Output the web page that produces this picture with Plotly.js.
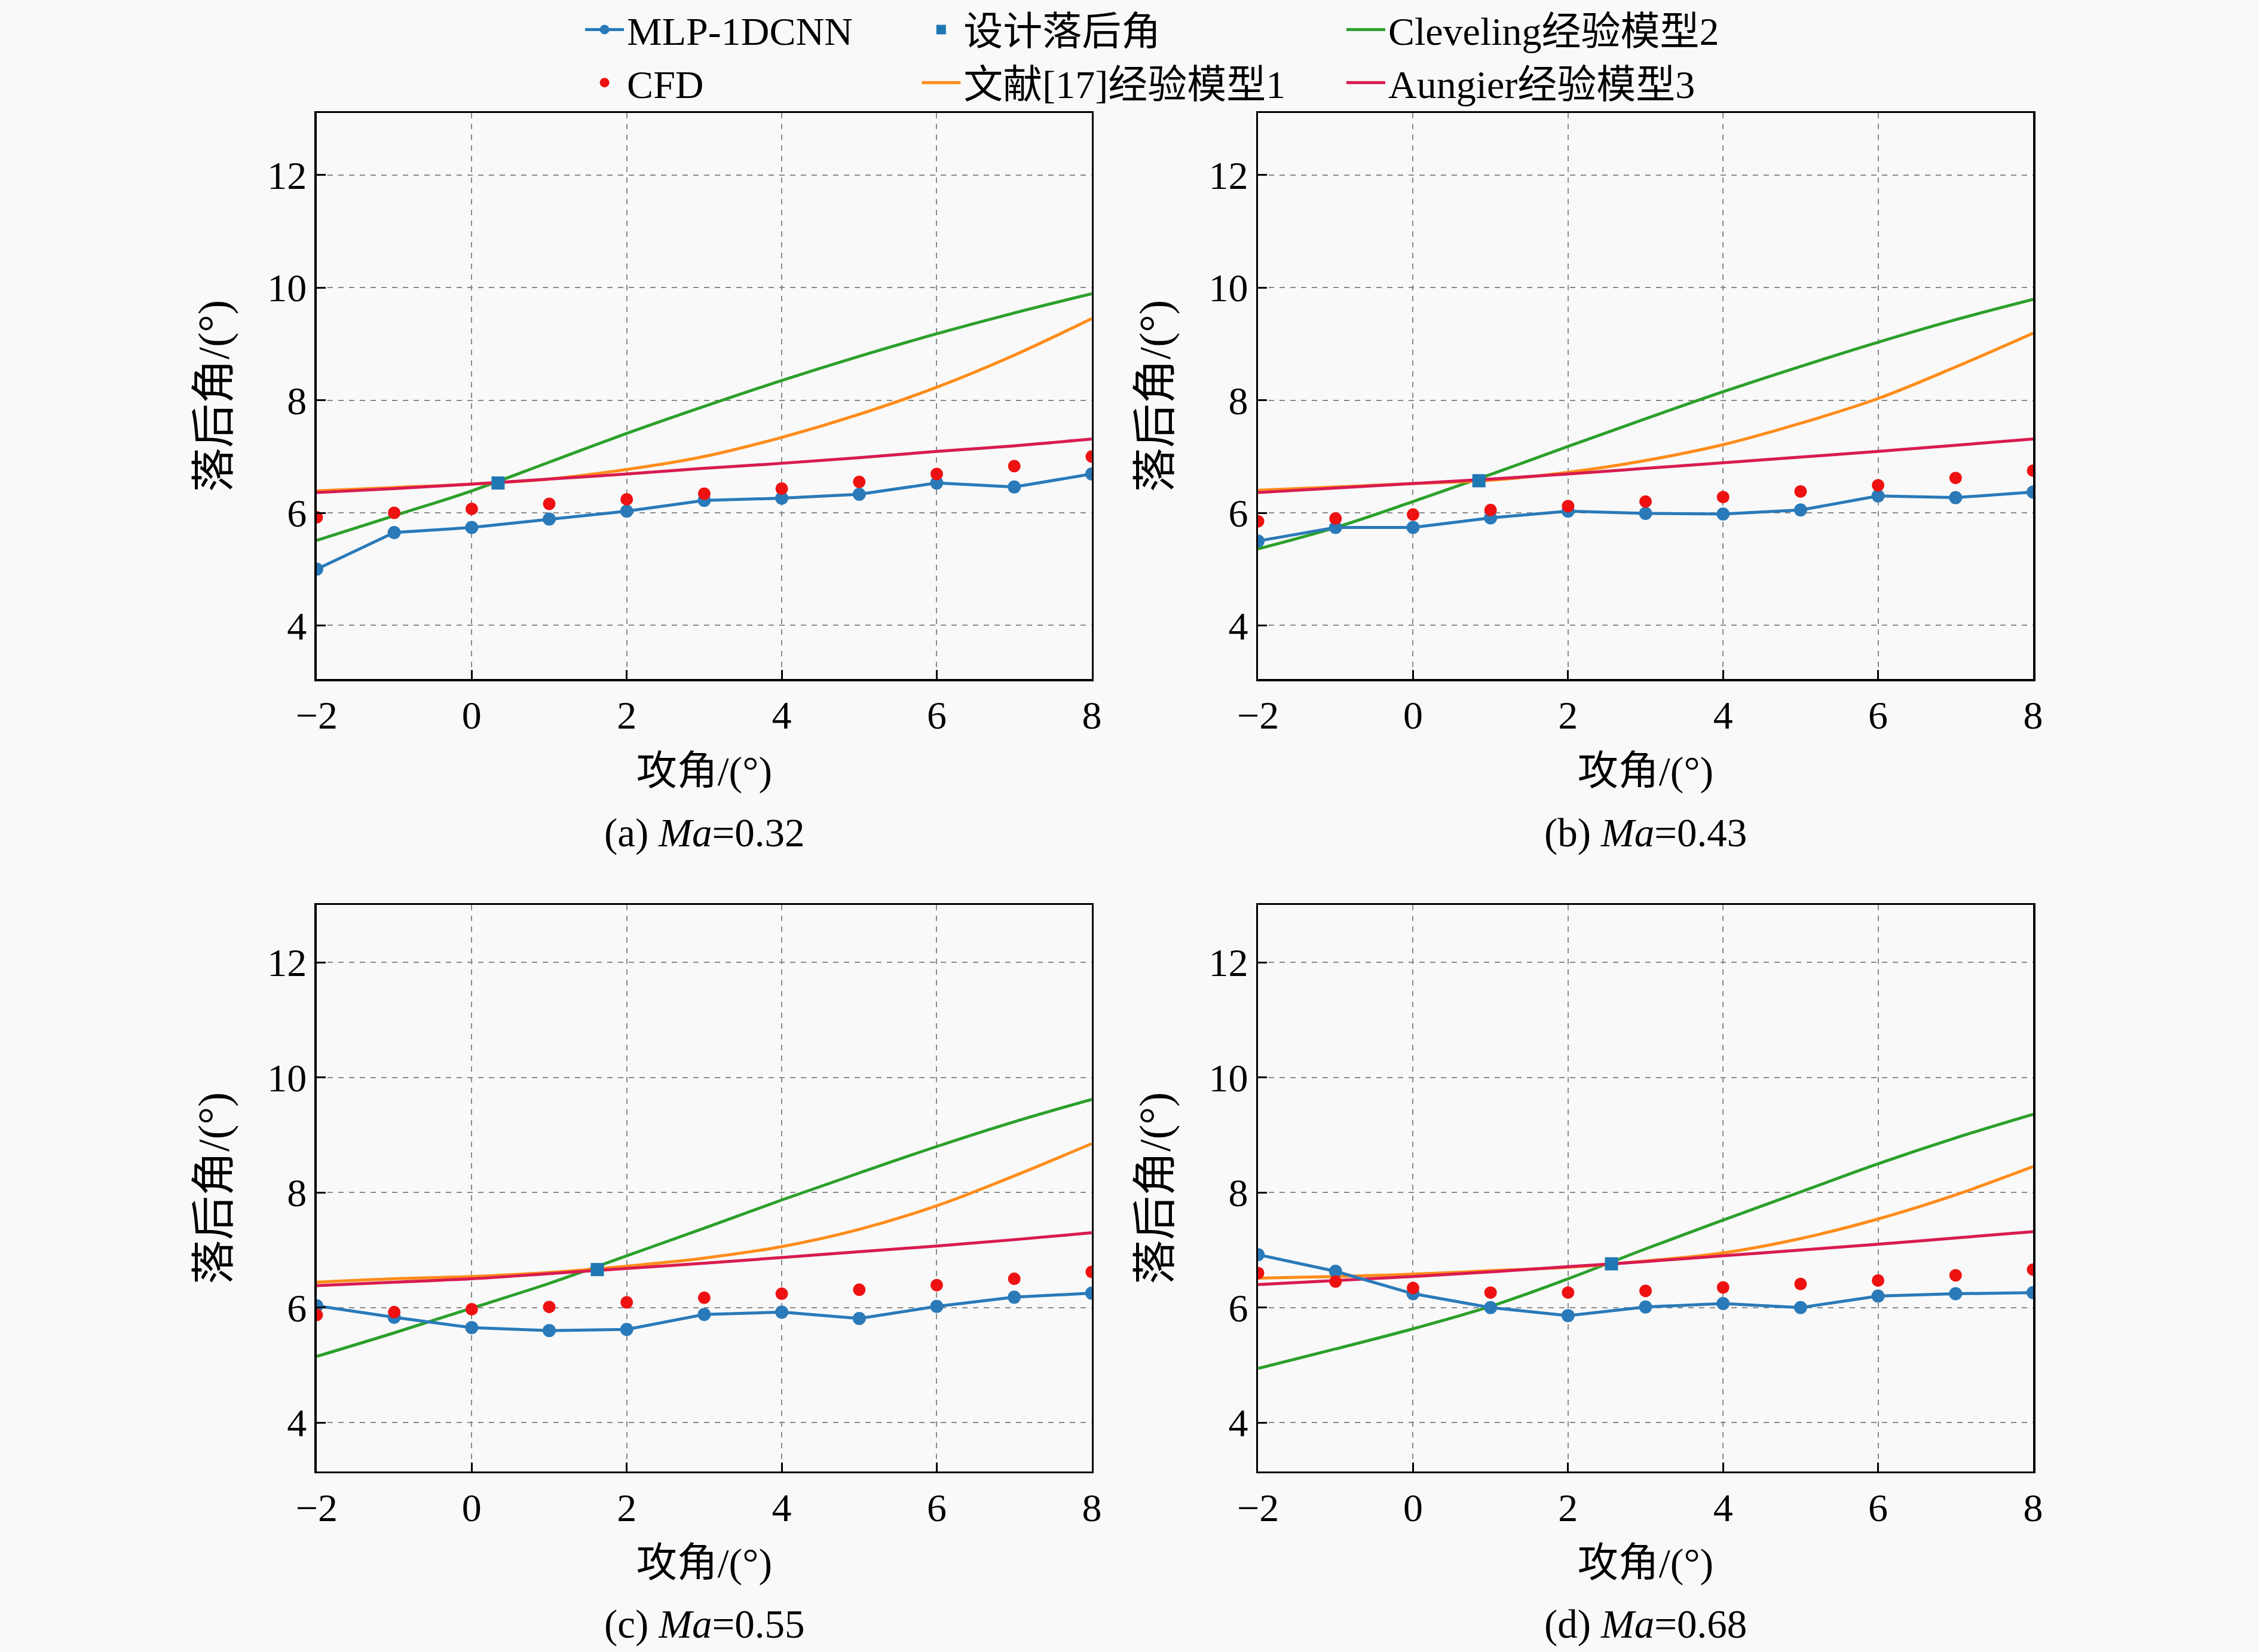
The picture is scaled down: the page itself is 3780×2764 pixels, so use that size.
<!DOCTYPE html>
<html>
<head>
<meta charset="utf-8">
<script src="https://cdn.plot.ly/plotly-3.0.1.min.js"></script>
<style>
  html, body { margin: 0; padding: 0; background: #f9f9f9; }
  #chart { width: 3780px; height: 2764px; }
</style>
</head>
<body>
<div id="chart"></div>
<script>
// angle of attack, same for every panel
const aoa = [-2, -1, 0, 1, 2, 3, 4, 5, 6, 7, 8];

// (a) Ma = 0.32
const mlpA   = [5.00, 5.65, 5.74, 5.89, 6.03, 6.22, 6.26, 6.33, 6.53, 6.46, 6.69];
const cfdA   = [5.92, 6.00, 6.07, 6.16, 6.24, 6.34, 6.43, 6.55, 6.69, 6.83, 7.00];
const mod1A  = [6.39, 6.45, 6.51, 6.60, 6.77, 7.00, 7.34, 7.75, 8.23, 8.80, 9.45];
const mod2A  = [5.51, 5.95, 6.39, 6.90, 7.41, 7.89, 8.35, 8.78, 9.18, 9.55, 9.89];
const mod3A  = [6.36, 6.43, 6.51, 6.60, 6.69, 6.79, 6.88, 6.98, 7.09, 7.19, 7.31];

// (b) Ma = 0.43
const mlpB   = [5.50, 5.74, 5.74, 5.91, 6.03, 5.99, 5.98, 6.05, 6.30, 6.27, 6.37];
const cfdB   = [5.85, 5.90, 5.97, 6.05, 6.12, 6.20, 6.28, 6.38, 6.49, 6.62, 6.75];
const mod1B  = [6.40, 6.46, 6.52, 6.58, 6.72, 6.93, 7.21, 7.59, 8.03, 8.59, 9.19];
const mod2B  = [5.36, 5.74, 6.20, 6.68, 7.18, 7.67, 8.15, 8.60, 9.03, 9.43, 9.79];
const mod3B  = [6.36, 6.44, 6.52, 6.60, 6.69, 6.79, 6.89, 6.99, 7.09, 7.20, 7.31];

// (c) Ma = 0.55
const mlpC   = [6.03, 5.83, 5.65, 5.60, 5.62, 5.88, 5.92, 5.81, 6.02, 6.18, 6.25];
const cfdC   = [5.87, 5.92, 5.97, 6.01, 6.09, 6.17, 6.24, 6.31, 6.39, 6.50, 6.62];
const mod1C  = [6.44, 6.50, 6.54, 6.61, 6.72, 6.86, 7.06, 7.36, 7.77, 8.29, 8.85];
const mod2C  = [5.15, 5.56, 5.99, 6.42, 6.90, 7.38, 7.87, 8.34, 8.80, 9.23, 9.62];
const mod3C  = [6.38, 6.44, 6.50, 6.59, 6.68, 6.77, 6.87, 6.97, 7.07, 7.18, 7.30];

// (d) Ma = 0.68
const mlpD   = [6.92, 6.63, 6.24, 6.00, 5.86, 6.01, 6.07, 6.00, 6.20, 6.24, 6.26];
const cfdD   = [6.60, 6.45, 6.34, 6.26, 6.26, 6.29, 6.35, 6.41, 6.47, 6.56, 6.66];
const mod1D  = [6.51, 6.54, 6.58, 6.64, 6.70, 6.81, 6.95, 7.20, 7.54, 7.96, 8.45];
const mod2D  = [4.94, 5.28, 5.63, 6.02, 6.50, 7.02, 7.52, 8.01, 8.50, 8.95, 9.36];
const mod3D  = [6.40, 6.47, 6.54, 6.62, 6.71, 6.80, 6.90, 7.00, 7.10, 7.21, 7.32];

// design deviation angle, one point per panel
const designX = [0.34, 0.85, 1.62, 2.56];
const designY = [6.53, 6.57, 6.66, 6.76];

const captions = ['(a) <i>Ma</i>=0.32', '(b) <i>Ma</i>=0.43', '(c) <i>Ma</i>=0.55', '(d) <i>Ma</i>=0.68'];
const names = ['MLP-1DCNN', 'CFD', '设计落后角', '文献[17]经验模型1', 'Cleveling经验模型2', 'Aungier经验模型3'];

const panels = [
  {mlp: mlpA, cfd: cfdA, m1: mod1A, m2: mod2A, m3: mod3A},
  {mlp: mlpB, cfd: cfdB, m1: mod1B, m2: mod2B, m3: mod3B},
  {mlp: mlpC, cfd: cfdC, m1: mod1C, m2: mod2C, m3: mod3C},
  {mlp: mlpD, cfd: cfdD, m1: mod1D, m2: mod2D, m3: mod3D}
];

const FONT = 'Liberation Serif, "Times New Roman", "Noto Sans CJK SC", serif';
const blue = '#2a7ab9', red = '#ee1111', orange = '#ff8c1a', green = '#2ca02c', crimson = '#d81b50';

let traces = [];
panels.forEach((p, i) => {
  let ax = i === 0 ? '' : String(i + 1);
  let first = i === 0;
  let common = {xaxis: 'x' + ax, yaxis: 'y' + ax, showlegend: first};

  traces.push(Object.assign({
    x: aoa, y: p.m2, name: names[4], mode: 'lines',
    line: {color: green, width: 5, shape: 'spline'},
    legend: 'legend3', legendrank: 1
  }, common));
  traces.push(Object.assign({
    x: aoa, y: p.m1, name: names[3], mode: 'lines',
    line: {color: orange, width: 5, shape: 'spline'},
    legend: 'legend2', legendrank: 2
  }, common));
  traces.push(Object.assign({
    x: aoa, y: p.m3, name: names[5], mode: 'lines',
    line: {color: crimson, width: 5, shape: 'spline'},
    legend: 'legend3', legendrank: 2
  }, common));
  traces.push(Object.assign({
    x: aoa, y: p.mlp, name: names[0], mode: 'lines+markers',
    line: {color: blue, width: 5},
    marker: {color: blue, size: 22},
    legend: 'legend', legendrank: 1
  }, common));
  traces.push(Object.assign({
    x: aoa, y: p.cfd, name: names[1], mode: 'markers',
    marker: {color: red, size: 21},
    legend: 'legend', legendrank: 2
  }, common));
  traces.push(Object.assign({
    x: [designX[i]], y: [designY[i]], name: names[2], mode: 'markers',
    marker: {color: '#1f77b4', size: 22, symbol: 'square'},
    legend: 'legend2', legendrank: 1
  }, common));
});

const xDom = [[0.1402, 0.4833], [0.5569, 0.9000]];
const yDom = [[0.589, 0.9316], [0.1093, 0.4522]];

function xAxis(dom) {
  return {
    domain: dom, range: [-2, 8], tickvals: [-2, 0, 2, 4, 6, 8],
    ticks: 'inside', ticklen: 15, tickwidth: 3, tickcolor: '#000',
    showline: true, linecolor: '#000', linewidth: 3.5, mirror: true,
    showgrid: true, gridcolor: '#8a8a8a', griddash: 'dash', gridwidth: 2,
    zeroline: false,
    tickfont: {family: FONT, size: 66, color: '#000'},
    title: {text: '攻角/(°)', font: {family: FONT, size: 68, color: '#000'}, standoff: 34}
  };
}
function yAxis(dom, range) {
  return {
    domain: dom, range: range, tickvals: [4, 6, 8, 10, 12],
    ticks: 'inside', ticklen: 15, tickwidth: 3, tickcolor: '#000',
    showline: true, linecolor: '#000', linewidth: 3.5, mirror: true,
    showgrid: true, gridcolor: '#8a8a8a', griddash: 'dash', gridwidth: 2,
    zeroline: false,
    tickfont: {family: FONT, size: 66, color: '#000'},
    title: {text: '落后角/(°)', font: {family: FONT, size: 74, color: '#000'}, standoff: 40}
  };
}

const legendBase = {
  orientation: 'v', yanchor: 'top', y: 1.0, xanchor: 'left',
  bgcolor: 'rgba(0,0,0,0)', borderwidth: 0, itemwidth: 65,
  font: {family: FONT, size: 66, color: '#000'}, tracegroupgap: 4
};

const layout = {
  width: 3780, height: 2764,
  margin: {l: 0, r: 0, t: 0, b: 0},
  paper_bgcolor: '#f9f9f9', plot_bgcolor: '#f9f9f9',
  font: {family: FONT, size: 60, color: '#000'},
  xaxis: xAxis(xDom[0]), yaxis: yAxis(yDom[0], [3.05, 13.1]),
  xaxis2: Object.assign(xAxis(xDom[1]), {anchor: 'y2'}), yaxis2: Object.assign(yAxis(yDom[0], [3.05, 13.1]), {anchor: 'x2'}),
  xaxis3: Object.assign(xAxis(xDom[0]), {anchor: 'y3'}), yaxis3: Object.assign(yAxis(yDom[1], [3.15, 13.0]), {anchor: 'x3'}),
  xaxis4: Object.assign(xAxis(xDom[1]), {anchor: 'y4'}), yaxis4: Object.assign(yAxis(yDom[1], [3.15, 13.0]), {anchor: 'x4'}),
  legend: Object.assign({}, legendBase, {x: 0.2577}),
  legend2: Object.assign({}, legendBase, {x: 0.4067}),
  legend3: Object.assign({}, legendBase, {x: 0.5947}),
  annotations: captions.map((t, i) => ({
    text: t, showarrow: false, xref: 'paper', yref: 'paper',
    x: (xDom[i % 2][0] + xDom[i % 2][1]) / 2,
    y: i < 2 ? 0.496 : 0.017, xanchor: 'center', yanchor: 'middle',
    font: {family: FONT, size: 67, color: '#000'}
  }))
};

Plotly.newPlot('chart', traces, layout, {staticPlot: true});
</script>
</body>
</html>
